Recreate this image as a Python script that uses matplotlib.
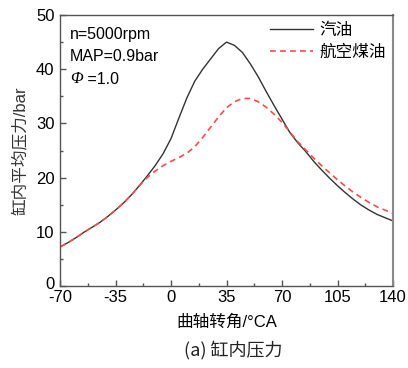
import matplotlib
matplotlib.use("Agg")
import matplotlib.pyplot as plt
from matplotlib.ticker import MultipleLocator
from matplotlib.transforms import ScaledTranslation

plt.rcParams['font.family'] = ['Liberation Sans', 'Noto Sans CJK SC', 'DejaVu Sans']
plt.rcParams['axes.unicode_minus'] = False

# Crank angle (°CA) and mean in-cylinder pressure (bar)
crank_angle = [-70, -65, -60, -55, -50, -45, -40, -35, -30, -25, -20, -15, -10, -5,
               0, 5, 10, 15, 20, 25, 30, 35, 40, 45, 50, 55, 60, 65, 70, 75,
               80, 85, 90, 95, 100, 105, 110, 115, 120, 125, 130, 135, 140]
gasoline = [7.2, 8.0, 8.9, 9.9, 10.8, 11.7, 12.8, 14.0, 15.3, 16.8, 18.5, 20.3, 22.2, 24.4,
            27.2, 31.0, 34.7, 37.8, 40.0, 41.9, 43.8, 45.0, 44.4, 43.1, 41.0, 38.6, 35.9, 33.3, 30.8, 28.3,
            26.4, 24.8, 23.0, 21.4, 19.9, 18.5, 17.2, 16.0, 14.9, 14.0, 13.2, 12.6, 12.0]
kerosene = [7.2, 8.0, 8.9, 9.9, 10.8, 11.7, 12.8, 14.0, 15.3, 16.8, 18.5, 20.0, 21.2, 22.2,
            23.0, 23.7, 24.5, 25.7, 27.4, 29.3, 31.2, 32.9, 34.0, 34.6, 34.6, 34.0, 33.0, 31.7, 30.2, 28.4,
            26.6, 25.1, 23.6, 22.2, 20.9, 19.6, 18.4, 17.3, 16.3, 15.4, 14.6, 14.0, 13.4]

series_labels = ['汽油', '航空煤油']
x_ticks = [-70, -35, 0, 35, 70, 105, 140]
y_ticks = [0, 10, 20, 30, 40, 50]

fig = plt.figure(figsize=(4.08, 3.68), dpi=100)
ax = fig.add_axes([60/408, 1-286/368, 333/408, 271/368])

ax.plot(crank_angle, gasoline, color='#333333', lw=1.0, label=series_labels[0])
ax.plot(crank_angle, kerosene, color='#ff4a4a', lw=1.2, dashes=(3.5, 2.5), label=series_labels[1])

ax.set_xlim(-70, 140)
ax.set_ylim(0, 50)
ax.set_xticks(x_ticks)
ax.set_yticks(y_ticks)
ax.xaxis.set_minor_locator(MultipleLocator(17.5))
ax.yaxis.set_minor_locator(MultipleLocator(5))
ax.tick_params(which='major', direction='in', length=4, width=1, color='#555555',
               labelsize=12, labelcolor='black', pad=2, top=False, right=False)
ax.tick_params(which='minor', direction='in', length=2, width=1, color='#555555',
               top=False, right=False)
ax.tick_params(axis='y', which='major', pad=4)
ax.tick_params(axis='x', which='major', pad=3)
for side, sp in ax.spines.items():
    sp.set_color('#555555')
    sp.set_linewidth(1.0)
ax.spines['right'].set_color('#888888')
ax.spines['right'].set_linewidth(1.5)

# lift the "0" label a little so it clears the first x label
zero_label = ax.get_yticklabels()[0]
zero_label.set_transform(zero_label.get_transform() + ScaledTranslation(0, 3/100, fig.dpi_scale_trans))

ax.set_xlabel('曲轴转角/°CA', fontsize=12, labelpad=7)
ax.set_ylabel('缸内平均压力/bar', fontsize=12, labelpad=6, color='#333333')

ax.text(0.03, 0.955, 'n=5000rpm', transform=ax.transAxes, fontsize=11.5, va='top')
ax.text(0.03, 0.875, 'MAP=0.9bar', transform=ax.transAxes, fontsize=11.5, va='top')
phi = ax.text(0.03, 0.795, 'Φ', transform=ax.transAxes, fontsize=12, va='top',
              family='Liberation Serif', style='italic')
ax.annotate(' =1.0', xy=(1, 0), xycoords=phi, va='bottom', ha='left', fontsize=11.5)

ax.legend(loc='upper right', frameon=False, handlelength=2.6,
          handletextpad=0.4, borderaxespad=0.0, labelspacing=0.3,
          prop={'family': ['Noto Sans CJK SC'], 'size': 12})

fig.text(233/408, 1-350/368, '(a) 缸内压力', ha='center', va='center', fontsize=13,
         family=['Noto Sans CJK SC', 'DejaVu Sans'], color='#222222')

fig.savefig('out.png', dpi=100)
